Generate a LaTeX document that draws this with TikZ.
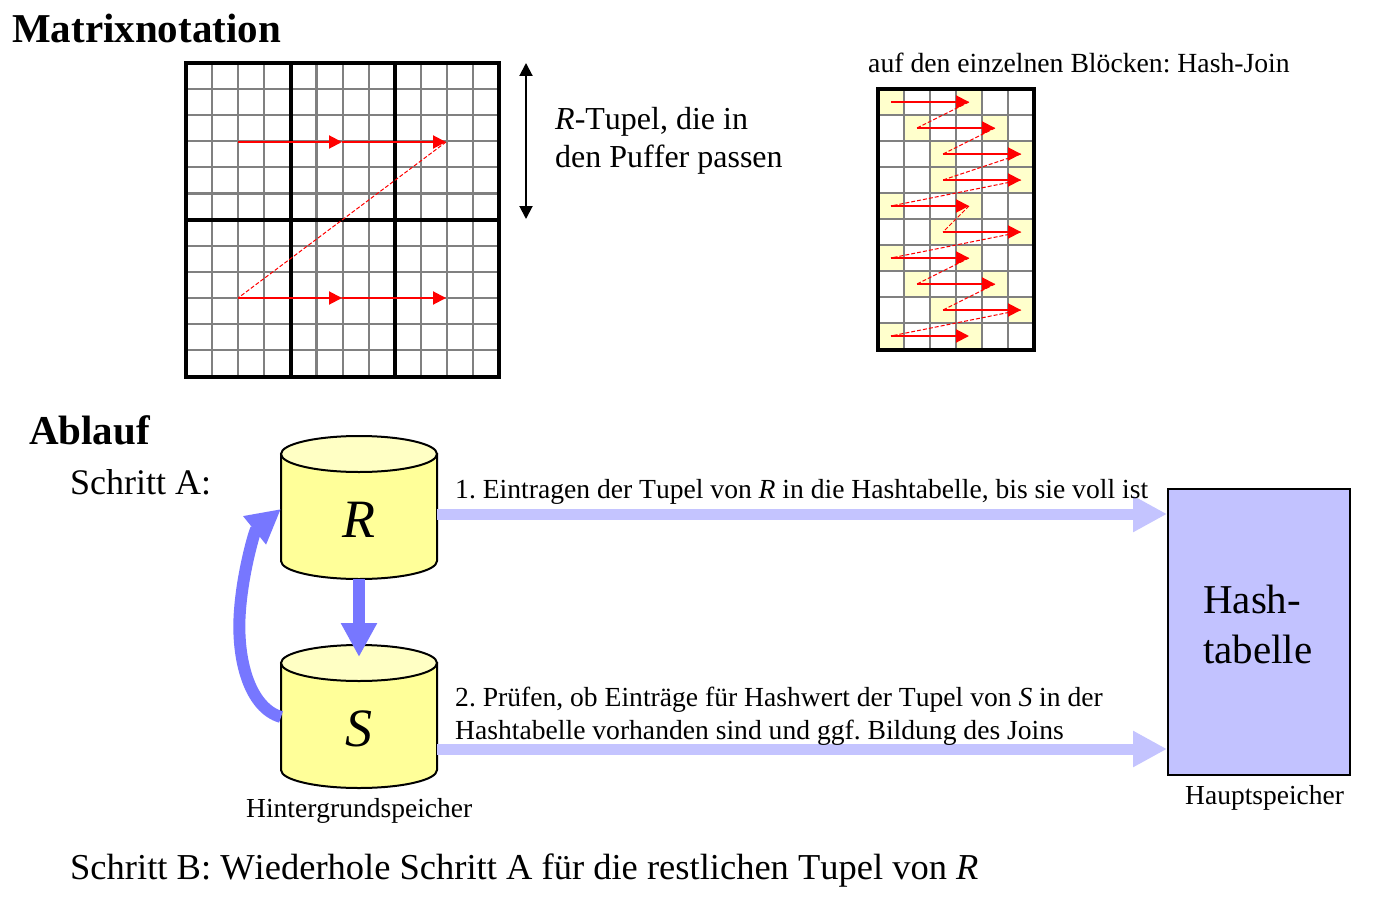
\documentclass[tikz,border=0pt]{standalone}
\usepackage{fontspec}
\setmainfont[Kerning=Off]{Liberation Serif}
\usetikzlibrary{arrows.meta,calc}
\definecolor{cellgray}{HTML}{808080}
\definecolor{hilite}{HTML}{FFFFCC}
\definecolor{cylbody}{HTML}{FFFF99}
\definecolor{cyltop}{HTML}{FFFFC4}
\definecolor{strongblue}{HTML}{7777FF}
\definecolor{paleblue}{HTML}{C4C4FF}
\definecolor{hashfill}{HTML}{C2C2FF}
\newcommand{\fs}[1]{\fontsize{#1}{#1}\selectfont\frenchspacing}
\newcommand{\fsl}[2]{\fontsize{#1}{#2}\selectfont\frenchspacing}
\tikzset{
  x=1pt,y=-1pt,
  txt/.style={inner sep=0pt,anchor=base west,text=black},
  cellgrid/.style={draw=cellgray,line width=2.2pt},
  frameline/.style={draw=black,line width=4pt},
  redarrow/.style={draw=red,line width=2pt,-{Triangle[length=13pt,width=13pt]}},
  reddash/.style={draw=red,line width=1pt,dash pattern=on 4pt off 2pt},
  palearrow/.style={draw=paleblue,line width=11pt,-{Triangle[length=34pt,width=34pt]}},
  strongarrow/.style={draw=strongblue,line width=12pt,-{Triangle[length=34pt,width=34pt]}},
  cyl/.style={draw=black,line width=2pt},
  dblarrow/.style={draw=black,line width=2pt,{Triangle[length=13pt,width=13pt]}-{Triangle[length=13pt,width=13pt]}},
}
\newcommand{\dbcyl}[3]{% name, top-ellipse centre y, label
  \path[cyl,fill=cylbody] (281,#2) -- (281,#2+107) arc[start angle=180,end angle=0,x radius=78,y radius=18] -- (437,#2) -- cycle;
  \path[cyl,fill=cyltop] (359,#2) ellipse[x radius=78,y radius=18];
  \node[inner sep=0pt,minimum width=156pt,minimum height=125pt,text height=42pt,text depth=0pt,font=\fs{54}\itshape] (#1) at (359,#2+62.5) {#3};
}
\begin{document}
\begin{tikzpicture}
\useasboundingbox (0,0) rectangle (1380,896);
\fill[white] (0,0) rectangle (1380,896);

\node[txt,font=\fs{41}\bfseries] (title1) at (12,43) {Matrixnotation};
\node[txt,font=\fs{41}\bfseries] (title2) at (29,444) {Ablauf};

% large matrix
\foreach \i in {1,...,11}{
  \draw[cellgrid] (186+\i*26.1,63) -- (186+\i*26.1,377);
  \draw[cellgrid] (186,63+\i*26.1) -- (499,63+\i*26.1);
}
\draw[frameline] (290.5,63) -- (290.5,377);
\draw[frameline] (395,63) -- (395,377);
\draw[frameline] (186,220) -- (499,220);
\draw[frameline] (186,63) rectangle (499,377);
\coordinate (ra) at (238,142);
\coordinate (rb) at (342,142);
\coordinate (rc) at (446,142);
\coordinate (sa) at (238,298);
\coordinate (sb) at (342,298);
\coordinate (sc) at (446,298);
\draw[redarrow] (ra) -- (rb);
\draw[redarrow] (rb) -- (rc);
\draw[redarrow] (sa) -- (sb);
\draw[redarrow] (sb) -- (sc);
\draw[reddash] (rc) -- (sa);

\coordinate (bufTop) at (526,63);
\coordinate (bufBot) at (526,219);
\draw[dblarrow] (bufTop) -- (bufBot);
\node[inner sep=0pt,anchor=west,align=left,font=\fsl{32}{38}] (buf) at (555,141) {\textit{R}-Tupel, die in\\den Puffer passen};

% small matrix
\node[txt,font=\fs{27.7}] (hjcap) at (868,73) {auf den einzelnen Blöcken: Hash-Join};
\foreach \r/\c in {0/0,1/1,2/2,3/2,4/0,5/2,6/0,7/1,8/2,9/0}{
  \fill[hilite] (878+\c*26,89+\r*26) rectangle ++(26,26);
  \fill[hilite] (878+\c*26+78,89+\r*26) rectangle ++(26,26);
}
\foreach \i in {1,...,5}{ \draw[cellgrid] (878+\i*26,89) -- (878+\i*26,350); }
\foreach \i in {1,...,9}{ \draw[cellgrid] (878,89+\i*26) -- (1034,89+\i*26); }
\draw[frameline] (878,89) rectangle (1034,350);
\foreach \r/\c in {0/0,1/1,2/2,3/2,4/0,5/2,6/0,7/1,8/2,9/0}{
  \coordinate (a\r) at (891+\c*26,102+\r*26);
  \coordinate (b\r) at (969+\c*26,102+\r*26);
  \draw[redarrow] (a\r) -- (b\r);
}
\foreach \r/\n in {0/1,1/2,2/3,3/4,4/5,5/6,6/7,7/8,8/9}{
  \draw[reddash] (b\r) -- (a\n);
}

% lower part
\node[txt,font=\fs{36}] (stepA) at (70,494) {Schritt A:};
\node[txt,font=\fs{36.5}] (stepB) at (70,879) {Schritt B: Wiederhole Schritt A für die restlichen Tupel von \textit{R}};
\dbcyl{R}{454}{R}
\dbcyl{S}{663}{S}
\node[fill=hashfill,draw=black,line width=2pt,minimum width=182pt,minimum height=286pt,inner sep=0pt] (Hash) at (1259,632) {};
\node[inner sep=0pt,anchor=west,align=left,font=\fsl{41}{50}] (hashtext) at (1203,624) {Hash-\\tabelle};

\coordinate (Rout) at (R.east |- 0,514);
\coordinate (Sout) at (S.east |- 0,749);
\draw[palearrow] (Rout) -- (Rout -| Hash.west);
\draw[palearrow] (Sout) -- (Sout -| Hash.west);
\coordinate (Stip) at (359,657);
\draw[strongarrow] (R.south) -- (Stip);
\coordinate (Sback) at (281,717);
\coordinate (Rback) at (281,509);
\draw[strongarrow] (Sback) .. controls (250,708) and (236,660) .. (240,610) .. controls (243,570) and (255,530) .. (Rback);

\node[txt,font=\fs{27.6}] (lab1) at (455,498) {1. Eintragen der Tupel von \textit{R} in die Hashtabelle, bis sie voll ist};
\node[inner sep=0pt,anchor=west,align=left,font=\fsl{27.6}{33}] (lab2) at (455,716) {2. Prüfen, ob Einträge für Hashwert der Tupel von \textit{S} in der\\Hashtabelle vorhanden sind und ggf. Bildung des Joins};
\node[txt,font=\fs{27.5}] (bg) at (246,817) {Hintergrundspeicher};
\node[txt,font=\fs{27.5}] (hs) at (1185,804) {Hauptspeicher};
\end{tikzpicture}
\end{document}
